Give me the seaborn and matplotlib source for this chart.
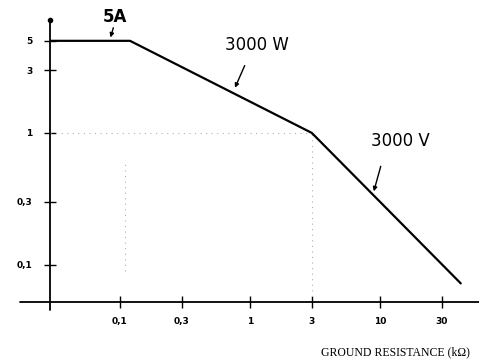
import matplotlib
matplotlib.use("Agg")
import pandas as pd
import matplotlib.pyplot as plt
import matplotlib.ticker as mticker
import seaborn as sns

# limiting curve: 5 A, then 3000 W, then 3000 V
resistance_kohm = [0.0291, 0.12, 3.0, 42.0]
current_a = [5.0, 5.0, 1.0, 0.072]

x_ticks = [0.1, 0.3, 1, 3, 10, 30]
x_tick_labels = ["0,1", "0,3", "1", "3", "10", "30"]
y_ticks = [0.1, 0.3, 1, 3, 5]
y_tick_labels = ["0,1", "0,3", "1", "3", "5"]

sns.set_theme(style="white")
plt.rcParams["font.family"] = ["DejaVu Sans"]
plt.rcParams["text.color"] = "black"

fig = plt.figure(figsize=(4.79, 3.63), dpi=100)
fig.patch.set_facecolor("white")
ax = fig.add_axes([0.1044, 0.168, 0.8956, 0.777])

df = pd.DataFrame({"R": resistance_kohm, "I": current_a})
sns.lineplot(data=df, x="R", y="I", ax=ax, color="black", lw=1.6,
             sort=False, estimator=None, zorder=3)
ax.set_xscale("log")
ax.set_yscale("log")
ax.set_xlim(0.0291, 58)
ax.set_ylim(0.052, 7.2)
ax.set_xlabel("")
ax.set_ylabel("")

# faint dotted guides
guide = dict(color="#b0b0b0", lw=0.8, ls=(0, (1, 4)), zorder=1)
ax.plot([0.0291, 3.0], [1, 1], **guide)
ax.plot([3.0, 3.0], [0.052, 1], **guide)
ax.plot([0.11, 0.11], [0.09, 0.6], **guide)

# hand-drawn style axes
for s in ax.spines.values():
    s.set_visible(False)
ax.plot([-0.07, 1], [0, 0], transform=ax.transAxes, clip_on=False, color="black", lw=1.3)
ax.plot([0, 0], [-0.03, 1], transform=ax.transAxes, clip_on=False, color="black", lw=1.3)
ax.plot([0], [1], "o", ms=3, color="black", transform=ax.transAxes, clip_on=False)

ax.set_xticks(x_ticks)
ax.set_xticklabels(x_tick_labels)
ax.set_yticks(y_ticks)
ax.set_yticklabels(y_tick_labels)
ax.xaxis.set_minor_locator(mticker.NullLocator())
ax.yaxis.set_minor_locator(mticker.NullLocator())
ax.tick_params(bottom=True, left=True, direction="inout", length=9, width=1,
               color="black", labelcolor="black", labelsize=6.5)
ax.tick_params(axis="x", pad=6)
ax.tick_params(axis="y", pad=8)
for lbl in ax.get_xticklabels() + ax.get_yticklabels():
    lbl.set_fontweight("bold")

# annotations
arrow = dict(arrowstyle="-|>", color="black", lw=1, mutation_scale=6,
             shrinkA=0, shrinkB=0)
ax.annotate("", xy=(0.085, 5.3), xytext=(2, 7), textcoords="offset points", arrowprops=arrow)
ax.annotate("5A", xy=(0.085, 5.3), xytext=(3, 15), textcoords="offset points",
            ha="center", va="center", fontsize=12, fontweight="bold", color="black")
ax.annotate("", xy=(0.77, 2.2), xytext=(7, 16), textcoords="offset points", arrowprops=arrow)
ax.annotate("3000 W", xy=(0.77, 2.2), xytext=(16, 31), textcoords="offset points",
            ha="center", va="center", fontsize=12, color="black")
ax.annotate("", xy=(9.0, 0.36), xytext=(5, 18), textcoords="offset points", arrowprops=arrow)
ax.annotate("3000 V", xy=(9.0, 0.36), xytext=(19, 36), textcoords="offset points",
            ha="center", va="center", fontsize=12, color="black")

fig.text(0.981, 0.03, "GROUND RESISTANCE (k\u03a9)", ha="right", va="center",
         family="Liberation Serif", fontsize=8.5, color="black")

fig.savefig("out.png", dpi=100, facecolor="white")
